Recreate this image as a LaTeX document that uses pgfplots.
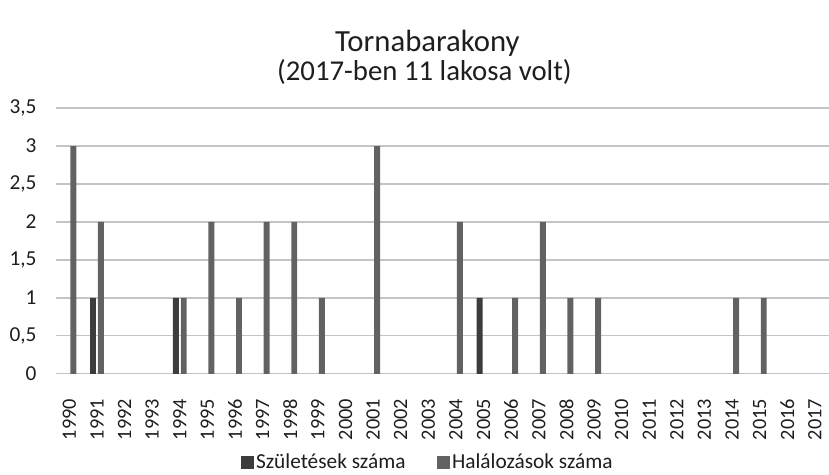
\documentclass[border=0pt]{standalone}
\usepackage{pgfplots}
\pgfplotsset{compat=1.18}
\usepackage{fontspec}
\setmainfont{Carlito}

\definecolor{births}{HTML}{3C3C3C}
\definecolor{deaths}{HTML}{626262}
\definecolor{gridgray}{HTML}{C4C4C4}
\definecolor{txt}{HTML}{1E1E1E}

\newcommand{\chartfont}{\fontsize{21.5bp}{26bp}\selectfont}

\begin{document}
\begin{tikzpicture}
  \begin{axis}[
    scale only axis,
    width=779.8bp,
    height=268bp,
    ybar=2bp,
    bar width=6bp,
    xmin=1989.5, xmax=2017.5,
    ymin=0, ymax=3.5,
    xtick={1990,...,2017},
    ytick={0,0.5,...,3.5},
    axis line style={draw=none},
    major tick length=0pt,
    ymajorgrids,
    major grid style={gridgray, line width=1.2bp},
    unbounded coords=discard,
    y filter/.expression={y==0 ? nan : y},
    /pgf/number format/assume math mode=true,
    /pgf/number format/use comma,
    yticklabel style={font=\chartfont, text=txt, anchor=east, inner sep=0pt, xshift=-19bp},
    xticklabel style={font=\fontsize{20.5bp}{24bp}\selectfont, text=txt, rotate=90, anchor=east, inner sep=0pt,
      xshift=-25bp, /pgf/number format/1000 sep={}},
    legend columns=2,
    legend style={draw=none, fill=none, font=\chartfont, text=txt,
      at={(rel axis cs:0.4815,-0.332)}, anchor=center,
      /tikz/every even column/.append style={column sep=30bp}},
    legend image code/.code={\path[#1] (0bp,-6.5bp) rectangle (13bp,6.5bp);},
  ]
    % Születések száma
    \addplot[draw=none, fill=births] coordinates {
      (1990,0) (1991,1) (1992,0) (1993,0) (1994,1) (1995,0) (1996,0)
      (1997,0) (1998,0) (1999,0) (2000,0) (2001,0) (2002,0) (2003,0)
      (2004,0) (2005,1) (2006,0) (2007,0) (2008,0) (2009,0) (2010,0)
      (2011,0) (2012,0) (2013,0) (2014,0) (2015,0) (2016,0) (2017,0)
    };
    % Halálozások száma
    \addplot[draw=none, fill=deaths] coordinates {
      (1990,3) (1991,2) (1992,0) (1993,0) (1994,1) (1995,2) (1996,1)
      (1997,2) (1998,2) (1999,1) (2000,0) (2001,3) (2002,0) (2003,0)
      (2004,2) (2005,0) (2006,1) (2007,2) (2008,1) (2009,1) (2010,0)
      (2011,0) (2012,0) (2013,0) (2014,1) (2015,1) (2016,0) (2017,0)
    };
    \legend{Születések száma, Halálozások száma}
    \coordinate (bl) at (rel axis cs:0,0);
  \end{axis}
  \node[text=txt, font=\fontsize{31bp}{36bp}\selectfont] at ([shift={(375bp,333bp)}]bl) {Tornabarakony};
  \node[text=txt, font=\fontsize{29bp}{34bp}\selectfont] at ([shift={(372bp,304bp)}]bl) {(2017-ben 11 lakosa volt)};
  \pgfresetboundingbox
  \path[use as bounding box] ([shift={(-56bp,-102bp)}]bl) rectangle ([shift={(780bp,377bp)}]bl);
\end{tikzpicture}
\end{document}
